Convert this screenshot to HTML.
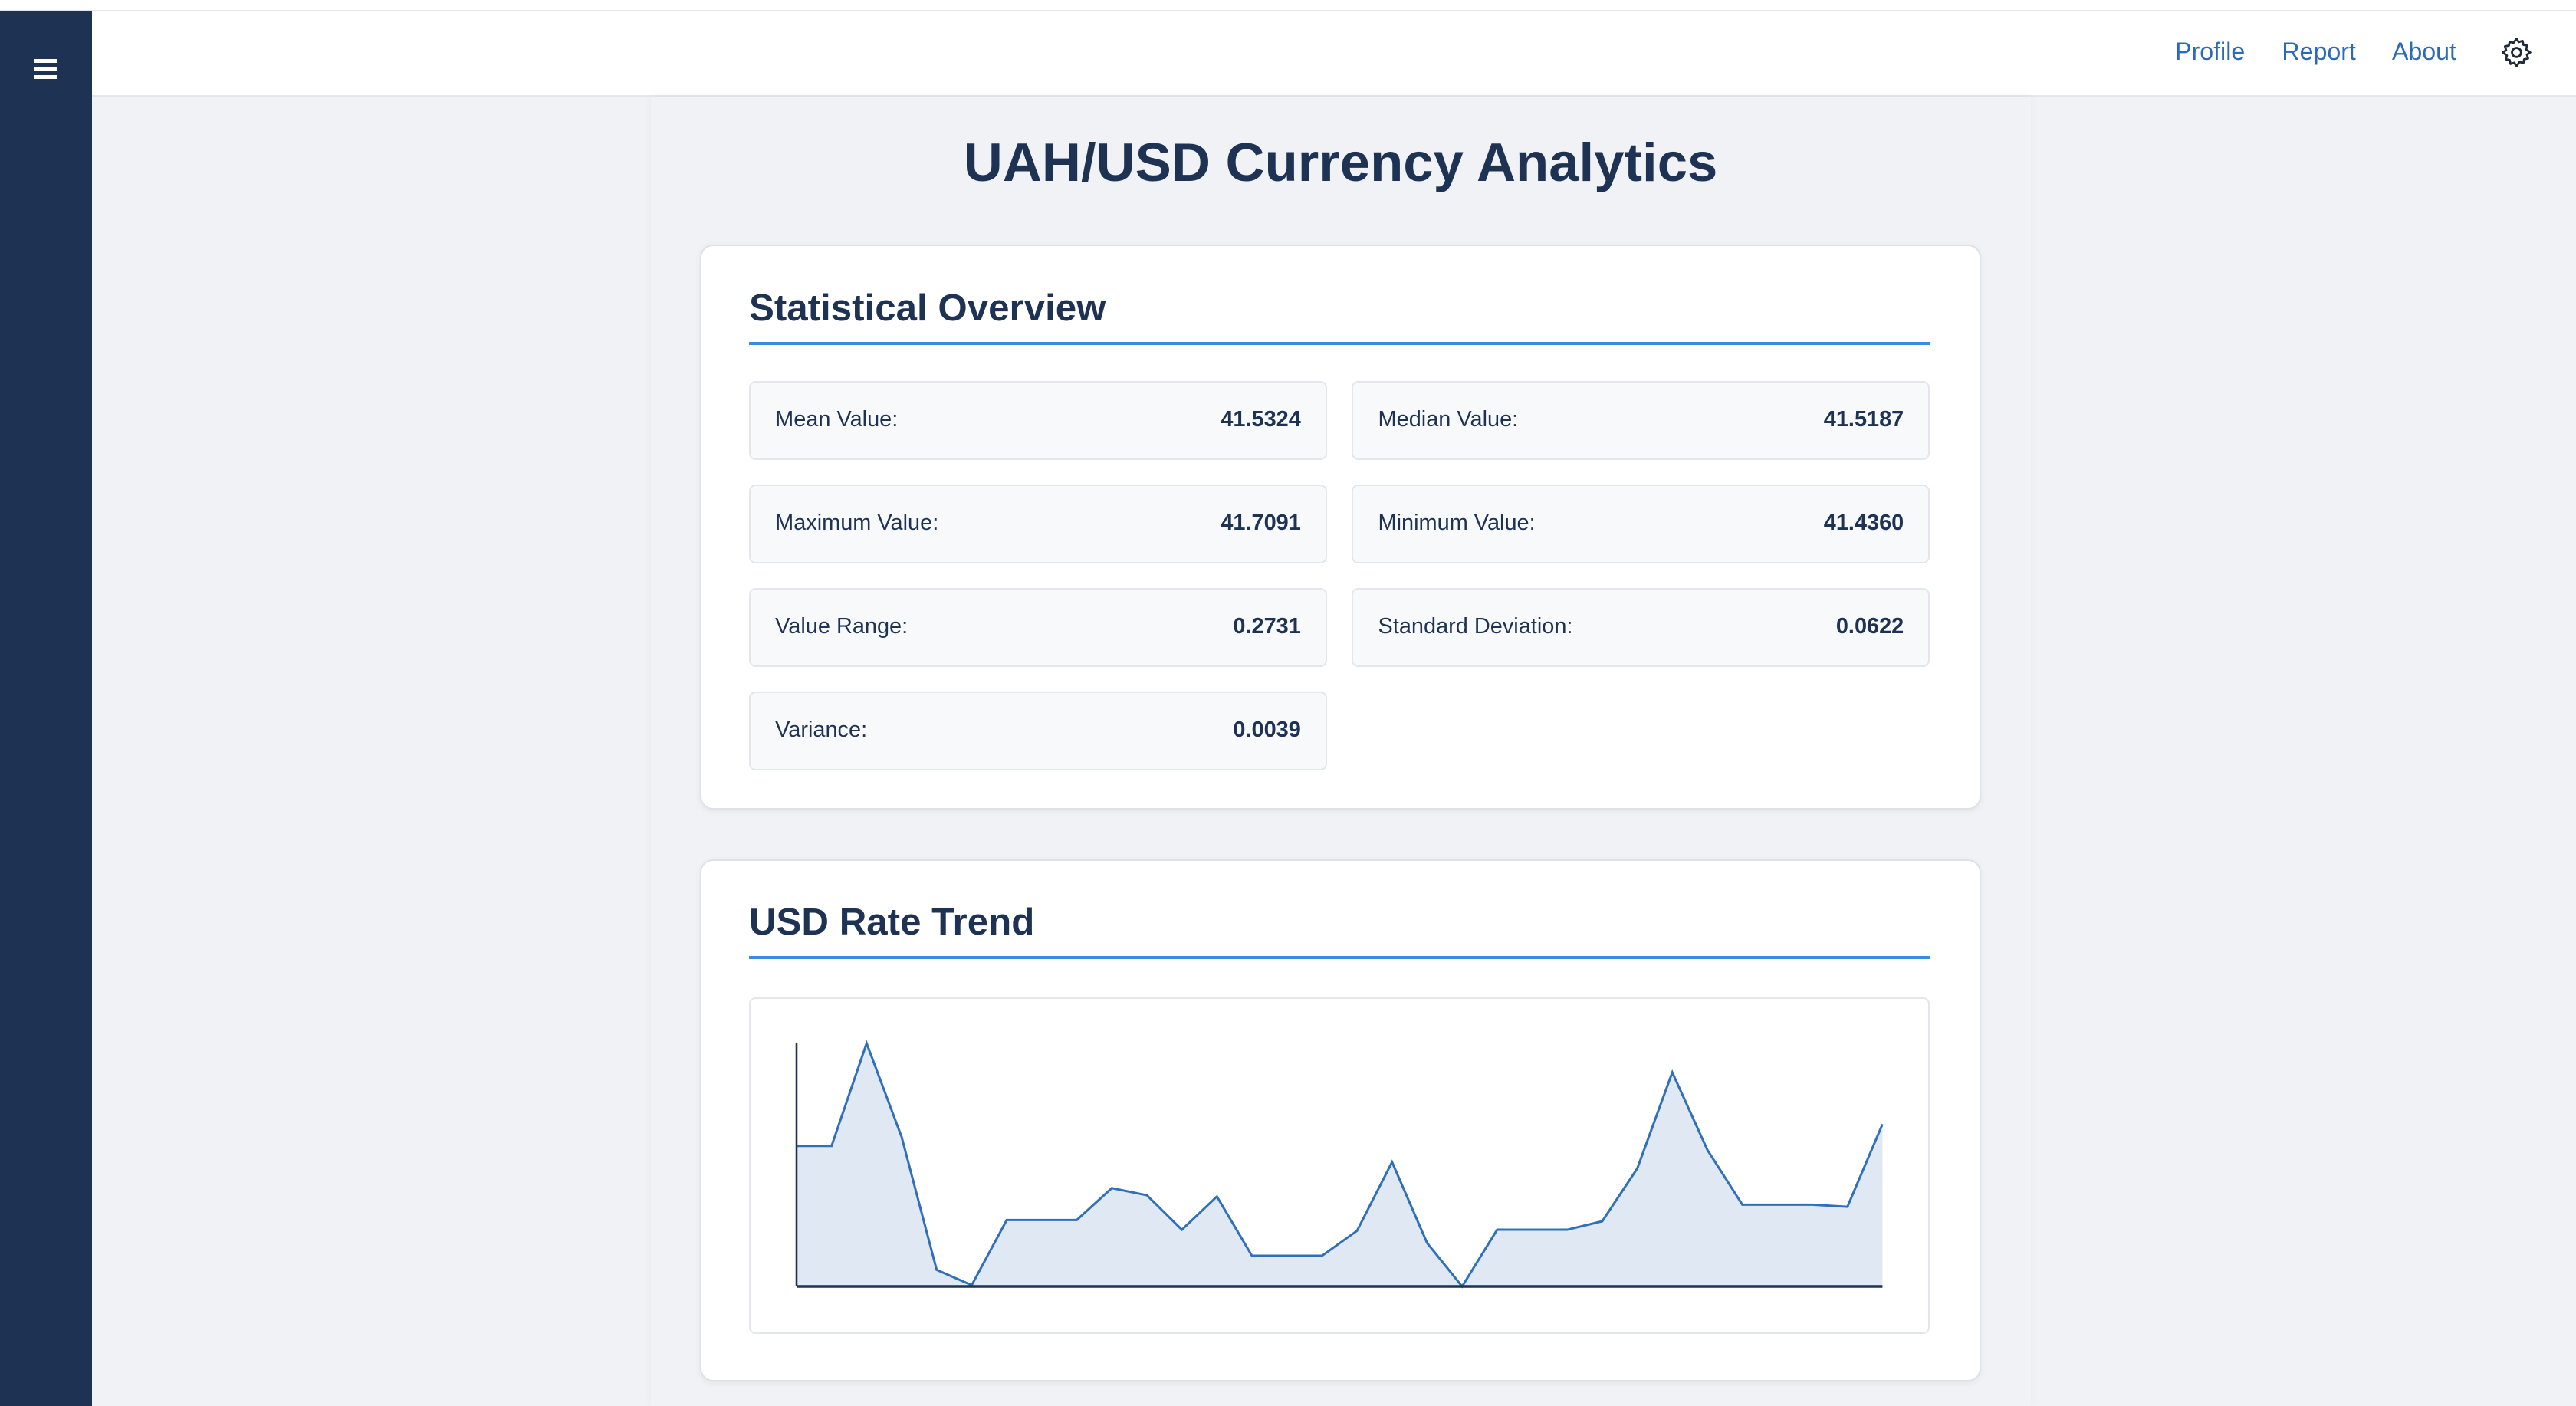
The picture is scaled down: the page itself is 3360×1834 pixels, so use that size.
<!DOCTYPE html>
<html><head><meta charset="utf-8">
<style>
html{zoom:2.142857;}
body{margin:0;width:1568px;height:856px;overflow:hidden;background:#f0f2f5;font-family:"Liberation Sans",sans-serif;position:relative;}
.abs{position:absolute;}
#topstrip{left:0;top:0;width:1568px;height:6px;background:#fff;border-bottom:1px solid #e2e4e8;}
#sidebar{left:0;top:7px;width:56px;height:849px;background:#1e3354;}
#header{left:56px;top:7px;width:1512px;height:51px;background:#fff;border-bottom:1px solid #e3e6ea;}
.nav{top:23px;font-size:15px;color:#2a6ab8;}
#container{left:396px;top:59px;width:840px;height:797px;background:#f0f2f6;box-shadow:0 0 6px rgba(0,0,0,0.04);}
h1{position:absolute;left:396px;width:840px;top:80px;margin:0;text-align:center;font-size:33px;font-weight:bold;color:#1e3354;}
.card{position:absolute;left:426px;width:778px;background:#fff;border:1px solid #dde2e8;border-radius:8px;box-shadow:0 1px 4px rgba(0,0,0,0.06);}
.card h2{position:absolute;left:29px;margin:0;font-size:23px;font-weight:bold;color:#1e3354;}
.rule{position:absolute;left:29px;width:719px;height:2px;background:#3a8ae0;}
.stat{position:absolute;width:350px;height:46px;background:#f8f9fb;border:1px solid #e3e6ea;border-radius:4px;font-size:13.5px;color:#1e3354;}
.stat .l{position:absolute;left:15px;top:15px;}
.stat .v{position:absolute;right:15px;top:15px;font-weight:bold;}
#chartbox{left:29px;top:83px;width:717px;height:203px;border:1px solid #e3e6ea;border-radius:4px;background:#fff;}
</style></head><body>
<div class="abs" id="topstrip"></div>
<div class="abs" id="sidebar">
  <div class="abs" style="left:21px;top:29px;width:14px;height:12px;">
    <div class="abs" style="left:0;top:0;width:14px;height:2.4px;background:#fff"></div>
    <div class="abs" style="left:0;top:4.8px;width:14px;height:2.4px;background:#fff"></div>
    <div class="abs" style="left:0;top:9.6px;width:14px;height:2.4px;background:#fff"></div>
  </div>
</div>
<div class="abs" id="header"></div>
<div class="abs nav" style="left:1324px">Profile</div>
<div class="abs nav" style="left:1389px">Report</div>
<div class="abs nav" style="left:1456px">About</div>
<svg class="abs" style="left:1522px;top:22px" width="20" height="20" viewBox="0 0 24 24">
<path d="M12 2l1.6 2.4 2.8-.8.6 2.8 2.8.6-.8 2.8L22 12l-2.4 1.6.8 2.8-2.8.6-.6 2.8-2.8-.8L12 22l-1.6-2.4-2.8.8-.6-2.8-2.8-.6.8-2.8L2 12l2.4-1.6-.8-2.8 2.8-.6.6-2.8 2.8.8z" fill="none" stroke="#1e2a3a" stroke-width="1.6" stroke-linejoin="round"/>
<circle cx="12" cy="12" r="3.3" fill="none" stroke="#1e2a3a" stroke-width="1.6"/></svg>
<div class="abs" id="container"></div>
<h1>UAH/USD Currency Analytics</h1>

<div class="card" style="top:149px;height:342px">
  <h2 style="top:24px">Statistical Overview</h2>
  <div class="rule" style="top:58px"></div>
  <div class="stat" style="left:29px;top:82px"><span class="l">Mean Value:</span><span class="v">41.5324</span></div>
  <div class="stat" style="left:396px;top:82px"><span class="l">Median Value:</span><span class="v">41.5187</span></div>
  <div class="stat" style="left:29px;top:145px"><span class="l">Maximum Value:</span><span class="v">41.7091</span></div>
  <div class="stat" style="left:396px;top:145px"><span class="l">Minimum Value:</span><span class="v">41.4360</span></div>
  <div class="stat" style="left:29px;top:208px"><span class="l">Value Range:</span><span class="v">0.2731</span></div>
  <div class="stat" style="left:396px;top:208px"><span class="l">Standard Deviation:</span><span class="v">0.0622</span></div>
  <div class="stat" style="left:29px;top:271px"><span class="l">Variance:</span><span class="v">0.0039</span></div>
</div>

<div class="card" style="top:523px;height:316px">
  <h2 style="top:24px">USD Rate Trend</h2>
  <div class="rule" style="top:58px"></div>
  <div class="abs" id="chartbox">
    <svg id="chart" width="717" height="203"></svg>
  </div>
</div>

<script>
const values = [41.5938,41.5938,41.7091,41.6038,41.4546,41.4374,41.5106,41.5106,41.5106,41.5464,41.5384,41.4997,41.5370,41.4704,41.4704,41.4704,41.4985,41.5757,41.4848,41.4360,41.4997,41.4997,41.4997,41.5092,41.5685,41.6764,41.5895,41.5278,41.5278,41.5278,41.5255,41.6182];
const categories = values.map((v,i)=>i);
const NS='http://www.w3.org/2000/svg';
const svg=document.getElementById('chart');
const x0=28,x1=689,y0=175,y1=27;
const vmin=Math.min(...values), vmax=Math.max(...values);
function xs(i){return x0+(x1-x0)*i/(categories.length-1);}
function ys(v){return y0-(y0-y1)*(v-vmin)/(vmax-vmin);}
let pts=values.map((v,i)=>xs(i)+','+ys(v)).join(' ');
const area=document.createElementNS(NS,'polygon');
area.setAttribute('points',x0+','+y0+' '+pts+' '+x1+','+y0);
area.setAttribute('fill','#dfe8f3');


svg.appendChild(area);
const line=document.createElementNS(NS,'polyline');
line.setAttribute('points',pts);
line.setAttribute('fill','none');
line.setAttribute('stroke','#3070b8');
line.setAttribute('stroke-width','1.4');


svg.appendChild(line);
const ya=document.createElementNS(NS,'line');
ya.setAttribute('x1',x0);ya.setAttribute('x2',x0);ya.setAttribute('y1',y1);ya.setAttribute('y2',y0);
ya.setAttribute('stroke','#1e3354');ya.setAttribute('stroke-width','1.2');


svg.appendChild(ya);
const xa=document.createElementNS(NS,'line');
xa.setAttribute('x1',x0);xa.setAttribute('x2',x1);xa.setAttribute('y1',y0);xa.setAttribute('y2',y0);
xa.setAttribute('stroke','#1e3354');xa.setAttribute('stroke-width','1.6');


svg.appendChild(xa);
</script>
</body></html>
